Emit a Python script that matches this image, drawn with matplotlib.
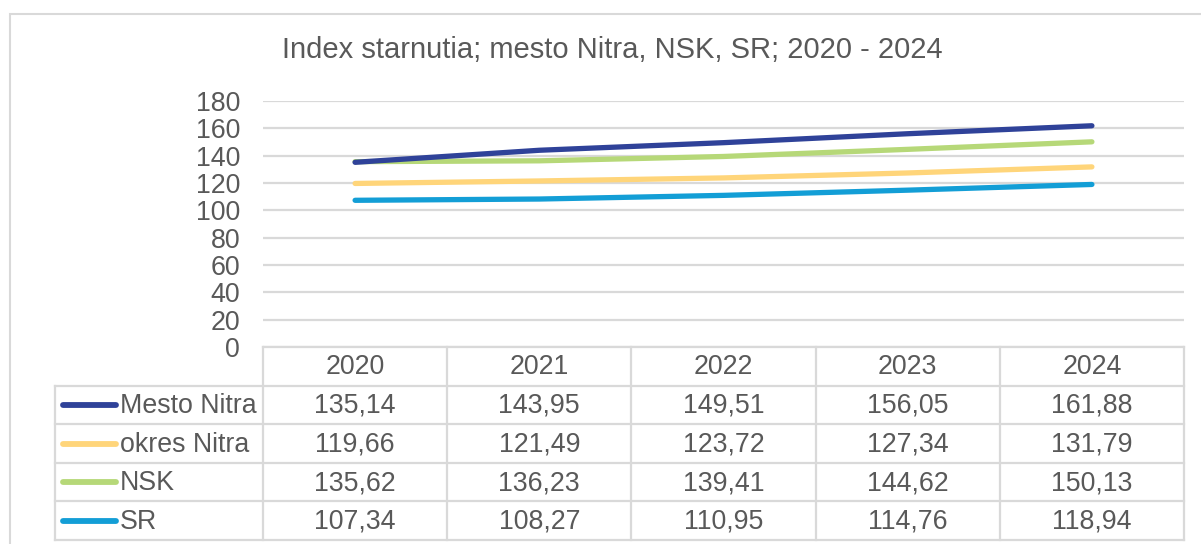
import matplotlib
matplotlib.use("Agg")
import matplotlib.pyplot as plt
from matplotlib.lines import Line2D
from matplotlib.patches import Rectangle

# ---------------------------------------------------------------------------
# Data
# ---------------------------------------------------------------------------
YEARS = ["2020", "2021", "2022", "2023", "2024"]
SERIES_NAMES = ["Mesto Nitra", "okres Nitra", "NSK", "SR"]
MESTO_NITRA = [135.14, 143.95, 149.51, 156.05, 161.88]
OKRES_NITRA = [119.66, 121.49, 123.72, 127.34, 131.79]
NSK = [135.62, 136.23, 139.41, 144.62, 150.13]
SR = [107.34, 108.27, 110.95, 114.76, 118.94]
Y_TICKS = [0, 20, 40, 60, 80, 100, 120, 140, 160, 180]
TITLE = "Index starnutia; mesto Nitra, NSK, SR; 2020 - 2024"

COLORS = ["#2F4299", "#FFD57A", "#B6D878", "#139ED6"]
TEXT_COLOR = "#595959"
GRID_COLOR = "#D9D9D9"
FS = 19.3

W, H = 1201, 544
plt.rcParams["font.family"] = ["Liberation Sans", "DejaVu Sans"]


def px_box(x0, y0, x1, y1):
    """Pixel box (top-left origin) -> figure rect."""
    return [x0 / W, 1 - y1 / H, (x1 - x0) / W, (y1 - y0) / H]


fig = plt.figure(figsize=(W / 100, H / 100), dpi=100)
fig.patch.set_facecolor("white")

# outer chart border
fig.patches.append(Rectangle((10 / W, -0.1), 1.2, 1 - 14 / H + 0.1, transform=fig.transFigure,
                             fill=False, edgecolor=GRID_COLOR, linewidth=1.5))

fig.text(612 / W, 1 - 50 / H, TITLE, ha="center", va="center", fontsize=21, color=TEXT_COLOR)

# ---------------------------------------------------------------------------
# Line plot
# ---------------------------------------------------------------------------
PLOT_L, PLOT_R, PLOT_T, PLOT_B = 263, 1184, 101, 347
ax = fig.add_axes(px_box(PLOT_L, PLOT_T, PLOT_R, PLOT_B))
ax.set_xlim(-0.5, len(YEARS) - 0.5)
ax.set_ylim(0, 180)
for s in ax.spines.values():
    s.set_visible(False)
ax.set_yticks(Y_TICKS)
ax.set_yticklabels([str(t) for t in Y_TICKS])
ax.tick_params(axis="y", length=0, pad=16.5, labelsize=FS, labelcolor=TEXT_COLOR)
ax.set_xticks([])
ax.grid(axis="y", color=GRID_COLOR, linewidth=1.6)
ax.set_axisbelow(True)

all_series = [MESTO_NITRA, OKRES_NITRA, NSK, SR]
x = range(len(YEARS))
# draw in reverse so the first series sits on top
for vals, c in reversed(list(zip(all_series, COLORS))):
    ax.plot(x, vals, color=c, linewidth=3.8, solid_capstyle="round", clip_on=False)

# ---------------------------------------------------------------------------
# Data table
# ---------------------------------------------------------------------------
TAB_L, TAB_B = 55, 540
tax = fig.add_axes(px_box(0, 0, W, H))
tax.set_xlim(0, W)
tax.set_ylim(H, 0)
tax.axis("off")

ncol = len(YEARS)
col_w = (PLOT_R - PLOT_L) / ncol
nrow = len(SERIES_NAMES) + 1
row_h = (TAB_B - PLOT_B) / nrow
col_edges = [PLOT_L + i * col_w for i in range(ncol + 1)]
row_edges = [PLOT_B + i * row_h for i in range(nrow + 1)]

line_kw = dict(color=GRID_COLOR, linewidth=1.6)
# horizontal lines
tax.plot([PLOT_L, PLOT_R], [row_edges[0]] * 2, **line_kw)
for yy in row_edges[1:]:
    tax.plot([TAB_L, PLOT_R], [yy, yy], **line_kw)
# vertical lines
tax.plot([TAB_L, TAB_L], [row_edges[1], row_edges[-1]], **line_kw)
for xx in col_edges:
    tax.plot([xx, xx], [row_edges[0], row_edges[-1]], **line_kw)

centers = [(col_edges[i] + col_edges[i + 1]) / 2 for i in range(ncol)]
for cx, yr in zip(centers, YEARS):
    tax.text(cx, (row_edges[0] + row_edges[1]) / 2 + 1, yr, ha="center", va="center",
             fontsize=FS, color=TEXT_COLOR)

for r, (name, vals, c) in enumerate(zip(SERIES_NAMES, all_series, COLORS)):
    cy = (row_edges[r + 1] + row_edges[r + 2]) / 2
    tax.add_line(Line2D([63, 116], [cy, cy], color=c, linewidth=4.2, solid_capstyle="round"))
    tax.text(120, cy + 1, name, ha="left", va="center", fontsize=FS, color=TEXT_COLOR)
    for cx, v in zip(centers, vals):
        tax.text(cx, cy + 1, f"{v:.2f}".replace(".", ","), ha="center", va="center",
                 fontsize=FS, color=TEXT_COLOR)

fig.savefig("out.png", dpi=100, facecolor="white")
